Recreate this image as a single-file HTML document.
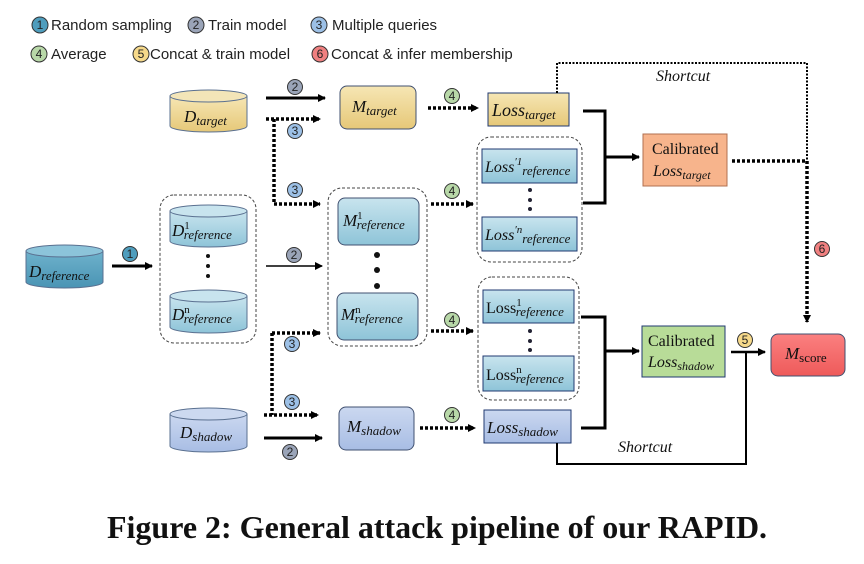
<!DOCTYPE html>
<html><head><meta charset="utf-8"><style>
html,body{margin:0;padding:0;background:#fff;}
svg{display:block}
.lg{font-family:"Liberation Sans",sans-serif;font-size:15px;fill:#222}
.ci{font-family:"Liberation Sans",sans-serif;font-size:12px;fill:#222;text-anchor:middle}
.m{font-family:"Liberation Serif",serif;font-style:italic;fill:#111}
.n{font-style:normal}
.cap{font-family:"Liberation Serif",serif;font-weight:bold;font-size:32px;fill:#111}
</style></head><body>
<svg width="864" height="564" viewBox="0 0 864 564" xmlns="http://www.w3.org/2000/svg">
<defs>
<marker id="ah" markerWidth="8" markerHeight="8" refX="7" refY="4" orient="auto" markerUnits="userSpaceOnUse"><path d="M0,0 L8,4 L0,8 z" fill="#000"/></marker>
<linearGradient id="gy" x1="0" y1="0" x2="0" y2="1"><stop offset="0" stop-color="#f6e6b4"/><stop offset="1" stop-color="#e6c878"/></linearGradient>
<linearGradient id="gb" x1="0" y1="0" x2="0" y2="1"><stop offset="0" stop-color="#c8e4ee"/><stop offset="1" stop-color="#8ec4d8"/></linearGradient>
<linearGradient id="gd" x1="0" y1="0" x2="0" y2="1"><stop offset="0" stop-color="#6fb2cc"/><stop offset="1" stop-color="#4a94b4"/></linearGradient>
<linearGradient id="gs" x1="0" y1="0" x2="0" y2="1"><stop offset="0" stop-color="#cbd8f0"/><stop offset="1" stop-color="#a8bde4"/></linearGradient>
<linearGradient id="gr" x1="0" y1="0" x2="0" y2="1"><stop offset="0" stop-color="#fb8080"/><stop offset="1" stop-color="#ee5a5a"/></linearGradient>
</defs>

<!-- legend -->
<g stroke="#333" stroke-width="1">
<circle cx="40" cy="25" r="8" fill="#4e9dbd"/><circle cx="196" cy="25" r="8" fill="#9aa4b8"/><circle cx="319" cy="25" r="8" fill="#9cc0e6"/>
<circle cx="39" cy="54" r="8" fill="#b8d8a8"/><circle cx="141" cy="54" r="8" fill="#f6d98a"/><circle cx="320" cy="54" r="8" fill="#f08080"/>
</g>
<text class="ci" x="40" y="29">1</text><text class="ci" x="196" y="29">2</text><text class="ci" x="319" y="29">3</text>
<text class="ci" x="39" y="58">4</text><text class="ci" x="141" y="58">5</text><text class="ci" x="320" y="58">6</text>
<text class="lg" x="51" y="30">Random sampling</text><text class="lg" x="208" y="30">Train model</text><text class="lg" x="332" y="30">Multiple queries</text>
<text class="lg" x="51" y="59">Average</text><text class="lg" x="150" y="59">Concat &amp; train model</text><text class="lg" x="331" y="59">Concat &amp; infer membership</text>

<!-- cylinders -->
<g stroke="#5a7090" stroke-width="1">
<path d="M170,96 v30 a38.5,6 0 0 0 77,0 v-30" fill="url(#gy)"/><ellipse cx="208.5" cy="96" rx="38.5" ry="6" fill="#f3e5b8"/>
<path d="M26,251 v31 a38.5,6 0 0 0 77,0 v-31" fill="url(#gd)"/><ellipse cx="64.5" cy="251" rx="38.5" ry="6" fill="#8cc4da"/>
<path d="M170,211 v30 a38.5,6 0 0 0 77,0 v-30" fill="url(#gb)"/><ellipse cx="208.5" cy="211" rx="38.5" ry="6" fill="#c8e4ee"/>
<path d="M170,296 v31 a38.5,6 0 0 0 77,0 v-31" fill="url(#gb)"/><ellipse cx="208.5" cy="296" rx="38.5" ry="6" fill="#c8e4ee"/>
<path d="M170,414 v32 a38.5,6 0 0 0 77,0 v-32" fill="url(#gs)"/><ellipse cx="208.5" cy="414" rx="38.5" ry="6" fill="#ccd9f0"/>
</g>
<text class="m" x="184" y="122" font-size="17">D<tspan font-size="13" dy="3">target</tspan></text>
<text class="m" x="29" y="277" font-size="17">D<tspan font-size="13" dy="3">reference</tspan></text>
<text class="m" x="172" y="236" font-size="17">D<tspan class="n" font-size="11" dy="-7">1</tspan><tspan font-size="13" dy="10" dx="-6">reference</tspan></text>
<text class="m" x="172" y="320" font-size="17">D<tspan class="n" font-size="11" dy="-7">n</tspan><tspan font-size="13" dy="10" dx="-6">reference</tspan></text>
<text class="m" x="180" y="438" font-size="17">D<tspan font-size="13" dy="3">shadow</tspan></text>
<g fill="#111"><circle cx="208" cy="256" r="2"/><circle cx="208" cy="266" r="2"/><circle cx="208" cy="276" r="2"/></g>

<!-- dashed groups -->
<g fill="none" stroke="#444" stroke-width="1" stroke-dasharray="3,2">
<rect x="160" y="195" width="96" height="148" rx="14"/>
<rect x="328" y="188" width="99" height="158" rx="14"/>
<rect x="477" y="137" width="105" height="125" rx="14"/>
<rect x="478" y="277" width="101" height="123" rx="14"/>
</g>

<!-- model boxes -->
<g stroke="#405070" stroke-width="1">
<rect x="340" y="86" width="76" height="43" rx="7" fill="url(#gy)"/>
<rect x="338" y="198" width="81" height="47" rx="7" fill="url(#gb)"/>
<rect x="337" y="293" width="81" height="47" rx="7" fill="url(#gb)"/>
<rect x="339" y="407" width="75" height="43" rx="7" fill="url(#gs)"/>
<rect x="771" y="334" width="74" height="42" rx="7" fill="url(#gr)"/>
</g>
<text class="m" x="352" y="112" font-size="17">M<tspan font-size="13" dy="3">target</tspan></text>
<text class="m" x="343" y="226" font-size="17">M<tspan class="n" font-size="11" dy="-7">1</tspan><tspan font-size="13" dy="10" dx="-6">reference</tspan></text>
<text class="m" x="341" y="320" font-size="17">M<tspan class="n" font-size="11" dy="-7">n</tspan><tspan font-size="13" dy="10" dx="-6">reference</tspan></text>
<text class="m" x="347" y="432" font-size="17">M<tspan font-size="13" dy="3">shadow</tspan></text>
<text class="m" x="785" y="359" font-size="17">M<tspan class="n" font-size="13" dy="3">score</tspan></text>
<g fill="#111"><circle cx="377" cy="255" r="3"/><circle cx="377" cy="270" r="3"/><circle cx="377" cy="286" r="3"/></g>

<!-- loss boxes -->
<g stroke="#203a70" stroke-width="1">
<rect x="488" y="93" width="81" height="33" fill="url(#gy)"/>
<rect x="482" y="149" width="95" height="34" fill="url(#gb)"/>
<rect x="482" y="217" width="95" height="34" fill="url(#gb)"/>
<rect x="483" y="290" width="91" height="33" fill="url(#gb)"/>
<rect x="483" y="356" width="91" height="35" fill="url(#gb)"/>
<rect x="484" y="410" width="87" height="33" fill="url(#gs)"/>
<rect x="643" y="134" width="84" height="52" fill="#f7b48c" stroke="#b07050"/>
<rect x="642" y="326" width="83" height="51" fill="#b8dc98" stroke="#203a70"/>
</g>
<text class="m" x="492" y="116" font-size="18">Loss<tspan font-size="13" dy="3">target</tspan></text>
<text class="m" x="485" y="172" font-size="16">Loss<tspan font-size="11" dy="-7">′1</tspan><tspan font-size="13" dy="10">reference</tspan></text>
<text class="m" x="485" y="240" font-size="16">Loss<tspan font-size="11" dy="-7">′n</tspan><tspan font-size="13" dy="10">reference</tspan></text>
<text class="m n" x="486" y="313" font-size="16">Loss<tspan font-size="11" dy="-7">1</tspan><tspan font-size="13" dy="10" dx="-6" style="font-style:italic">reference</tspan></text>
<text class="m n" x="486" y="380" font-size="16">Loss<tspan font-size="11" dy="-7">n</tspan><tspan font-size="13" dy="10" dx="-6" style="font-style:italic">reference</tspan></text>
<text class="m" x="487" y="433" font-size="17">Loss<tspan font-size="13" dy="3">shadow</tspan></text>
<text class="m n" x="652" y="154" font-size="16">Calibrated</text>
<text class="m" x="653" y="176" font-size="16">Loss<tspan font-size="12" dy="3">target</tspan></text>
<text class="m n" x="648" y="346" font-size="16">Calibrated</text>
<text class="m" x="648" y="367" font-size="16">Loss<tspan font-size="12" dy="3">shadow</tspan></text>
<g fill="#223"><circle cx="530" cy="190" r="2"/><circle cx="530" cy="200" r="2"/><circle cx="530" cy="209" r="2"/>
<circle cx="530" cy="331" r="2"/><circle cx="530" cy="341" r="2"/><circle cx="530" cy="350" r="2"/></g>

<!-- solid arrows -->
<g stroke="#000" fill="none">
<line x1="112" y1="266" x2="152" y2="266" stroke-width="3" marker-end="url(#ah)"/>
<line x1="266" y1="98" x2="325" y2="98" stroke-width="3" marker-end="url(#ah)"/>
<line x1="266" y1="266" x2="322" y2="266" stroke-width="1.5" marker-end="url(#ah)"/>
<line x1="264" y1="438" x2="322" y2="438" stroke-width="3" marker-end="url(#ah)"/>
<polyline points="583,111 605,111 605,203 583,203" stroke-width="3"/>
<line x1="605" y1="157" x2="639" y2="157" stroke-width="3" marker-end="url(#ah)"/>
<polyline points="581,317 605,317 605,428 581,428" stroke-width="3"/>
<line x1="605" y1="351" x2="639" y2="351" stroke-width="3" marker-end="url(#ah)"/>
<line x1="731" y1="352" x2="765" y2="352" stroke-width="2.5" marker-end="url(#ah)"/>
<polyline points="557,443 557,464 746,464 746,352" stroke-width="2"/>
</g>
<!-- dotted arrows -->
<g stroke="#000" fill="none" stroke-width="3.5" stroke-dasharray="3,2">
<line x1="266" y1="119" x2="320" y2="119" marker-end="url(#ah)"/>
<polyline points="274,119 274,204 320,204" marker-end="url(#ah)"/>
<line x1="272" y1="333" x2="272" y2="415"/>
<line x1="272" y1="333" x2="320" y2="333" marker-end="url(#ah)"/>
<line x1="264" y1="415" x2="318" y2="415" marker-end="url(#ah)"/>
<line x1="428" y1="108" x2="478" y2="108" marker-end="url(#ah)"/>
<line x1="431" y1="204" x2="473" y2="204" marker-end="url(#ah)"/>
<line x1="431" y1="331" x2="473" y2="331" marker-end="url(#ah)"/>
<line x1="420" y1="428" x2="475" y2="428" marker-end="url(#ah)"/>
<line x1="732" y1="161" x2="807" y2="161"/>
<line x1="807" y1="161" x2="807" y2="322" marker-end="url(#ah)"/>
</g>
<polyline points="557,93 557,63 807,63 807,161" stroke="#000" fill="none" stroke-width="2" stroke-dasharray="2,1.5"/>
<text class="m" x="656" y="81" font-size="16">Shortcut</text>
<text class="m" x="618" y="452" font-size="16">Shortcut</text>

<!-- step circles -->
<g stroke="#333" stroke-width="1">
<circle cx="130" cy="254" r="7.5" fill="#4e9dbd"/>
<circle cx="295" cy="87" r="7.5" fill="#9aa4b8"/><circle cx="294" cy="255" r="7.5" fill="#9aa4b8"/><circle cx="290" cy="452" r="7.5" fill="#9aa4b8"/>
<circle cx="295" cy="131" r="7.5" fill="#9cc0e6"/><circle cx="295" cy="190" r="7.5" fill="#9cc0e6"/><circle cx="292" cy="344" r="7.5" fill="#9cc0e6"/><circle cx="292" cy="402" r="7.5" fill="#9cc0e6"/>
<circle cx="452" cy="96" r="7.5" fill="#b8d8a8"/><circle cx="452" cy="191" r="7.5" fill="#b8d8a8"/><circle cx="452" cy="320" r="7.5" fill="#b8d8a8"/><circle cx="452" cy="415" r="7.5" fill="#b8d8a8"/>
<circle cx="745" cy="340" r="7.5" fill="#f6d98a"/><circle cx="822" cy="249" r="7.5" fill="#f08080"/>
</g>
<g class="ci">
<text x="130" y="258">1</text>
<text x="295" y="91">2</text><text x="294" y="259">2</text><text x="290" y="456">2</text>
<text x="295" y="135">3</text><text x="295" y="194">3</text><text x="292" y="348">3</text><text x="292" y="406">3</text>
<text x="452" y="100">4</text><text x="452" y="195">4</text><text x="452" y="324">4</text><text x="452" y="419">4</text>
<text x="745" y="344">5</text><text x="822" y="253">6</text>
</g>

<text class="cap" x="437" y="538" text-anchor="middle">Figure 2: General attack pipeline of our RAPID.</text>
</svg>
</body></html>
